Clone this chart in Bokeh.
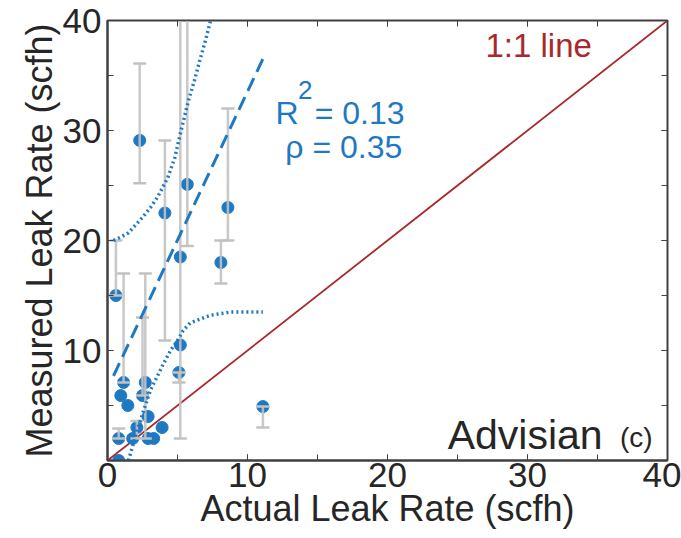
from bokeh.plotting import figure
from bokeh.models import Range1d, LinearAxis, SingleIntervalTicker
from bokeh.core.properties import value
from bokeh.embed import file_html
from bokeh.resources import INLINE

# ---- data ----
actual = [0.8, 0.8, 0.6, 1.15, 0.95, 1.45, 2.7, 2.5, 2.9, 2.1, 1.8, 2.9, 3.3, 3.9,
          2.3, 4.1, 5.2, 5.7, 8.1, 8.6, 5.2, 5.1, 11.1]
measured = [0.0, 2.0, 15.0, 7.1, 5.9, 5.0, 7.1, 5.9, 4.0, 3.0, 2.0, 2.0, 2.0, 3.0,
            29.1, 22.5, 18.5, 25.1, 18.0, 23.0, 10.5, 8.0, 4.9]
err_low = [0.0, 2.0, 15.0, 7.1, 5.9, 5.0, 2.0, 5.9, 4.0, 2.0, 2.0, 2.0, 2.0, 3.0,
           25.2, 10.9, 2.0, 19.5, 16.1, 20.0, 10.5, 7.1, 3.0]
err_high = [0.0, 2.9, 20.0, 17.0, 5.9, 5.0, 17.0, 13.0, 4.0, 3.6, 2.0, 2.0, 2.0, 3.0,
            36.1, 29.1, 45.0, 45.0, 20.0, 32.0, 10.5, 8.0, 4.9]

fit_x = [0.43, 11.1]
fit_y = [7.7, 36.5]

upper_x = [0.43, 0.93, 1.5, 2.0, 2.5, 3.07, 3.6, 4.3, 4.8, 5.2, 5.8, 6.2, 6.6, 7.0, 7.36]
upper_y = [20.0, 20.3, 20.7, 21.4, 22.1, 23.0, 24.0, 25.7, 27.5, 29.7, 32.8, 34.5, 36.4, 38.2, 40.0]

lower_x = [1.5, 2.1, 3.07, 4.0, 4.5, 5.0, 5.4, 5.9, 6.9, 7.36, 8.8, 9.0, 11.1]
lower_y = [0.0, 2.7, 6.4, 8.8, 10.0, 10.9, 11.8, 12.5, 13.0, 13.2, 13.5, 13.5, 13.5]

one_x = [0, 40]
one_y = [0, 40]

BLUE = "#1f78c2"
RED = "#a8292b"
GRAY = "#c2c2c2"
TXT = "#262626"
FONT = "Liberation Sans"

p = figure(width=681, height=538, output_backend="svg", toolbar_location=None,
           x_range=Range1d(0, 40), y_range=Range1d(0, 40),
           min_border_left=107, min_border_right=14, min_border_top=20, min_border_bottom=78)
p.grid.visible = False
p.outline_line_color = "#404040"
p.outline_line_width = 2
p.background_fill_color = "white"
p.border_fill_color = "white"

for ax in (p.xaxis[0], p.yaxis[0]):
    ax.ticker = SingleIntervalTicker(interval=10, num_minor_ticks=2)
    ax.major_tick_in = 6
    ax.major_tick_out = 0
    ax.minor_tick_in = 6
    ax.minor_tick_out = 0
    ax.major_tick_line_color = "#404040"
    ax.minor_tick_line_color = "#404040"
    ax.axis_line_color = "#404040"
    ax.axis_line_width = 2
    ax.major_label_text_font = FONT
    ax.major_label_text_font_size = "35px"
    ax.major_label_text_color = TXT
    ax.axis_label_text_font = FONT
    ax.axis_label_text_font_size = "36px"
    ax.axis_label_text_font_style = "normal"
    ax.axis_label_text_color = TXT

p.xaxis[0].axis_label = "Actual Leak Rate (scfh)"
p.yaxis[0].axis_label = "Measured Leak Rate (scfh)"
p.xaxis[0].major_label_standoff = 2
p.xaxis[0].axis_label_standoff = -2
p.yaxis[0].major_label_standoff = 6
p.yaxis[0].axis_label_standoff = 0
p.yaxis[0].major_label_overrides = {0: ""}

for loc in ("above", "right"):
    ax2 = LinearAxis(ticker=SingleIntervalTicker(interval=10, num_minor_ticks=2))
    ax2.major_tick_in = 6
    ax2.major_tick_out = 0
    ax2.minor_tick_in = 6
    ax2.minor_tick_out = 0
    ax2.major_tick_line_color = "#404040"
    ax2.minor_tick_line_color = "#404040"
    ax2.axis_line_color = "#404040"
    ax2.major_label_text_font_size = "0px"
    ax2.major_label_standoff = 0
    p.add_layout(ax2, loc)

# 1:1 line
p.line(one_x, one_y, line_color=RED, line_width=1.8)

# error bars
bars = [(x, lo, hi) for x, lo, hi in zip(actual, err_low, err_high) if hi > lo]
bx = [b[0] for b in bars]
blo = [b[1] for b in bars]
bhi = [b[2] for b in bars]

# markers
p.scatter(actual, measured, size=12, marker="circle", fill_color=BLUE, line_color=BLUE)

p.segment(x0=bx, y0=blo, x1=bx, y1=bhi, line_color=GRAY, line_width=2.5, line_alpha=0.9)
p.scatter(bx, blo, marker="dash", size=13, line_color=GRAY, line_width=2.5)
p.scatter(bx, bhi, marker="dash", size=13, line_color=GRAY, line_width=2.5)

# regression and bands
p.line(fit_x, fit_y, line_color=BLUE, line_width=3, line_dash="14 7")
p.line(upper_x, upper_y, line_color=BLUE, line_width=3.5, line_dash="2 3")
p.line(lower_x, lower_y, line_color=BLUE, line_width=3.5, line_dash="2 3")

# texts
def label(x, y, s, color, size):
    p.text(x=[x], y=[y], text=[s], text_color=color, text_font=value(FONT),
           text_font_size=size, text_baseline="middle", text_align="left")

label(27.0, 37.7, "1:1 line", RED, "33px")
label(12.0, 31.6, "R", BLUE, "32px")
label(13.6, 33.7, "2", BLUE, "26px")
label(14.8, 31.6, "= 0.13", BLUE, "32px")
label(12.7, 28.5, "\u03c1 = 0.35", BLUE, "32px")
label(24.3, 2.3, "Advisian", TXT, "41px")
label(36.6, 2.1, "(c)", TXT, "28px")

open("out.html", "w").write(file_html(p, INLINE))
